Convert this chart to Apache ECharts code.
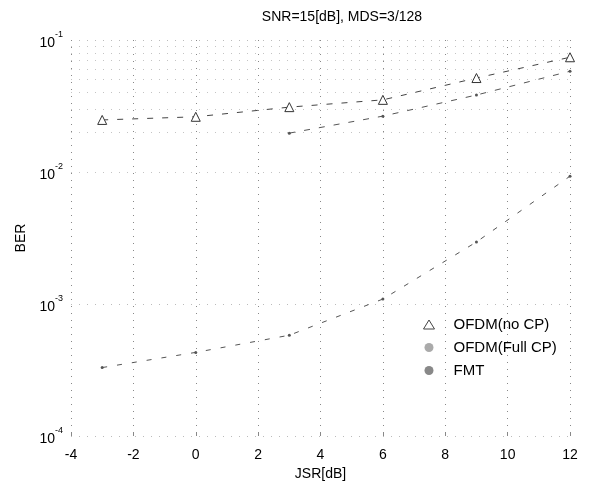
<!DOCTYPE html>
<html>
<head>
<meta charset="utf-8">
<script src="https://cdn.jsdelivr.net/npm/echarts@6/dist/echarts.min.js"></script>
<style>
  html, body { margin: 0; padding: 0; background: #fff; }
  #chart { width: 595px; height: 488px; }
</style>
</head>
<body>
<div id="chart"></div>
<script>
// ---- data ----
const jsrNoCP = [-3, 0, 3, 6, 9, 12];
const berNoCP = [0.0248, 0.0262, 0.0310, 0.0352, 0.0515, 0.0740];

const jsrFullCP = [-3, 0, 3, 6, 9, 12];
const berFullCP = [3.3e-4, 4.3e-4, 5.8e-4, 1.09e-3, 2.95e-3, 9.3e-3];

const jsrFMT = [3, 6, 9, 12];
const berFMT = [0.0197, 0.0265, 0.0383, 0.058];

const yMinorLevels = [];
for (let d = -4; d < -1; d++) {
  for (let m = 2; m <= 9; m++) yMinorLevels.push(m * Math.pow(10, d));
}

const pairs = (xs, ys) => xs.map((x, i) => [x, ys[i]]);
const FONT = 'Liberation Sans, Arial, Helvetica, sans-serif';

const chart = echarts.init(document.getElementById('chart'), null, { renderer: 'canvas' });
chart.setOption({
  animation: false,
  backgroundColor: '#fff',
  textStyle: { fontFamily: FONT, color: '#000' },
  title: {
    text: 'SNR=15[dB], MDS=3/128',
    left: 337, top: 5, textAlign: 'center',
    textStyle: { fontFamily: FONT, fontSize: 14, fontWeight: 'normal', color: '#000' }
  },
  grid: { left: 71, right: 25, top: 40, bottom: 52, containLabel: false },
  legend: {
    orient: 'vertical',
    left: 418, top: 312,
    itemGap: 8,
    itemWidth: 11, itemHeight: 9,
    textStyle: { fontFamily: FONT, fontSize: 15, color: '#000', padding: [0, 0, 0, 14] },
    data: [
      { name: 'OFDM(no CP)', icon: 'triangle', itemStyle: { color: '#fff', borderColor: '#444', borderWidth: 1 } },
      { name: 'OFDM(Full CP)', icon: 'circle', itemStyle: { color: '#aaa' } },
      { name: 'FMT', icon: 'circle', itemStyle: { color: '#888' } }
    ],
    itemStyle: { borderWidth: 0 },
    lineStyle: { width: 0 }
  },
  xAxis: {
    type: 'value', min: -4, max: 12, interval: 2,
    name: 'JSR[dB]', nameLocation: 'middle', nameGap: 31,
    nameTextStyle: { fontFamily: FONT, fontSize: 14, color: '#000' },
    axisLine: { show: false },
    axisTick: { show: true, inside: true, length: 4, lineStyle: { color: '#888' } },
    axisLabel: { fontFamily: FONT, fontSize: 14, color: '#000', margin: 12 },
    splitLine: { show: true, lineStyle: { color: '#888', type: [1, 6], width: 1 } }
  },
  yAxis: {
    type: 'log', logBase: 10, min: 1e-4, max: 1e-1,
    name: 'BER', nameLocation: 'middle', nameGap: 42, nameRotate: 90,
    nameTextStyle: { fontFamily: FONT, fontSize: 14, color: '#000' },
    axisLine: { show: false },
    axisTick: { show: false },
    axisLabel: {
      margin: 8,
      formatter: function (v) {
        const e = Math.round(Math.log10(v));
        return '{b|10}{s|' + e + '}';
      },
      rich: {
        b: { fontFamily: FONT, fontSize: 14, color: '#000', verticalAlign: 'bottom', lineHeight: 20 },
        s: { fontFamily: FONT, fontSize: 9, color: '#000', verticalAlign: 'top', lineHeight: 20, padding: [0, 0, 8, 0] }
      }
    },
    splitLine: { show: true, lineStyle: { color: '#bbb', type: [1, 7], width: 1 } }
  },
  series: [
    {
      name: 'OFDM(no CP)', type: 'line',
      data: pairs(jsrNoCP, berNoCP),
      symbol: 'triangle', symbolSize: 9,
      itemStyle: { color: '#fff', borderColor: '#333', borderWidth: 1 },
      lineStyle: { color: '#444', width: 1, type: [6, 9] },
      z: 5
    },
    {
      name: 'OFDM(Full CP)', type: 'line',
      data: pairs(jsrFullCP, berFullCP),
      symbol: 'circle', symbolSize: 3,
      itemStyle: { color: '#555' },
      lineStyle: { color: '#555', width: 1, type: [5, 10] },
      z: 5
    },
    {
      name: 'FMT', type: 'line',
      data: pairs(jsrFMT, berFMT),
      symbol: 'circle', symbolSize: 3,
      itemStyle: { color: '#555' },
      lineStyle: { color: '#555', width: 1, type: [6, 9] },
      z: 5
    },
    {
      name: 'minor-grid', type: 'line', data: [], silent: true,
      markLine: {
        silent: true, symbol: 'none', label: { show: false },
        lineStyle: { color: '#c4c4c4', type: [1, 7], width: 1 },
        data: yMinorLevels.map(v => ({ yAxis: v }))
      }
    }
  ]
});
</script>
</body>
</html>
